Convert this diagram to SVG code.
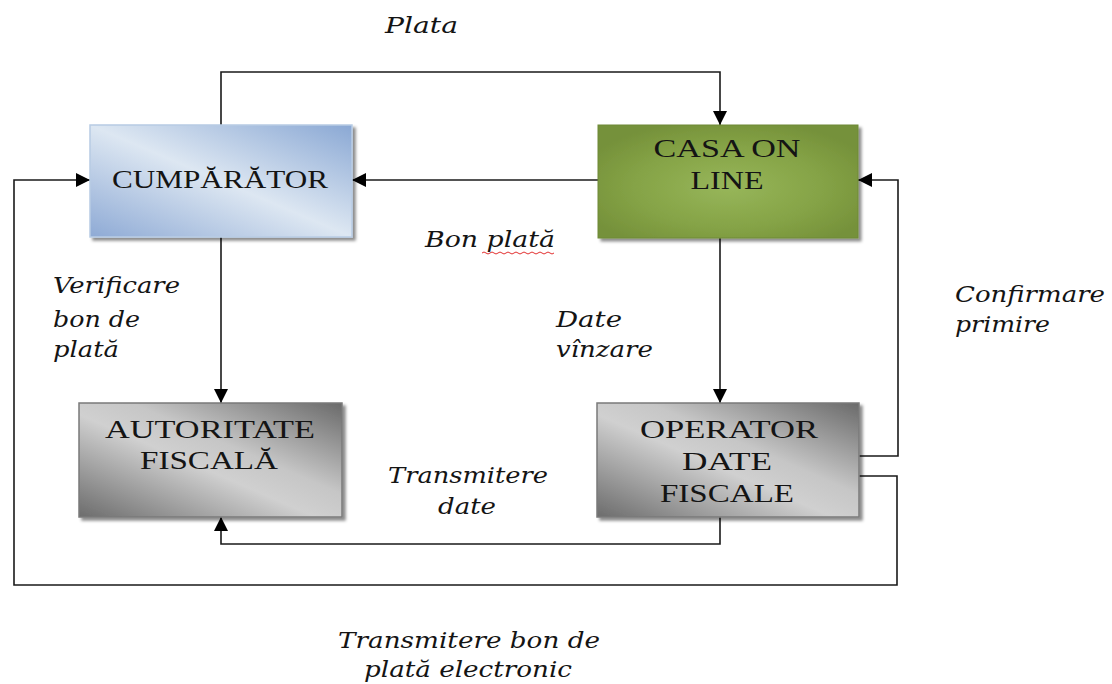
<svg xmlns="http://www.w3.org/2000/svg" width="1112" height="684" viewBox="0 0 1112 684">
<style>
.box-text{font-family:"Liberation Serif","Times New Roman",serif;font-size:26px;fill:#141414;text-anchor:middle}
.lbl{font-family:"DejaVu Serif","Liberation Serif",serif;font-style:italic;font-size:22px;fill:#141414}
.conn{fill:none;stroke:#1a1a1a;stroke-width:1.6}
</style>
<defs>
<linearGradient id="gBlue" x1="0" y1="1" x2="1" y2="0">
<stop offset="0" stop-color="#8eaad5"/>
<stop offset="0.5" stop-color="#dde7f2"/>
<stop offset="1" stop-color="#8aa8d4"/>
</linearGradient>
<radialGradient id="gGreen" cx="0.5" cy="0.55" r="0.6">
<stop offset="0" stop-color="#97b65a"/>
<stop offset="0.6" stop-color="#85a346"/>
<stop offset="1" stop-color="#75913a"/>
</radialGradient>
<linearGradient id="gGrey" x1="0" y1="1" x2="1" y2="0">
<stop offset="0" stop-color="#6c6c6c"/>
<stop offset="0.45" stop-color="#d0d0d0"/>
<stop offset="0.6" stop-color="#c6c6c6"/>
<stop offset="1" stop-color="#6a6a6a"/>
</linearGradient>
<filter id="shadow" x="-10%" y="-10%" width="130%" height="130%">
<feDropShadow dx="3" dy="3" stdDeviation="1.5" flood-color="#000" flood-opacity="0.45"/>
</filter>
<marker id="arrow" markerUnits="userSpaceOnUse" markerWidth="14" markerHeight="14" refX="14" refY="7" orient="auto">
<path d="M0,0 L14,7 L0,14 z" fill="#000"/>
</marker>
</defs>

<g id="connectors">
<path class="conn" d="M221,125 V72 H720 V125" marker-end="url(#arrow)"/>
<path class="conn" d="M598,180 H352" marker-end="url(#arrow)"/>
<path class="conn" d="M221,237 V403" marker-end="url(#arrow)"/>
<path class="conn" d="M720,238 V403" marker-end="url(#arrow)"/>
<path class="conn" d="M720,517 V544 H221 V517" marker-end="url(#arrow)"/>
<path class="conn" d="M858,456 H898 V180 H858" marker-end="url(#arrow)"/>
<path class="conn" d="M858,476 H897 V585 H14 V180 H90" marker-end="url(#arrow)"/>
</g>

<g id="node-cumparator">
<rect x="90" y="125" width="262" height="112" fill="url(#gBlue)" stroke="#b8cce4" stroke-width="1.5" filter="url(#shadow)"/>
<text class="box-text" x="220" y="188" textLength="216" lengthAdjust="spacingAndGlyphs">CUMPĂRĂTOR</text>
</g>

<g id="node-casa">
<rect x="598" y="125" width="260" height="113" fill="url(#gGreen)" stroke="#6f8a37" stroke-width="1" filter="url(#shadow)"/>
<text class="box-text" x="727" y="157" textLength="147" lengthAdjust="spacingAndGlyphs">CASA ON</text>
<text class="box-text" x="727" y="189" textLength="73" lengthAdjust="spacingAndGlyphs">LINE</text>
</g>

<g id="node-autoritate">
<rect x="79" y="403" width="263" height="114" fill="url(#gGrey)" stroke="#7a7a7a" stroke-width="1.5" filter="url(#shadow)"/>
<text class="box-text" x="210" y="438" textLength="210" lengthAdjust="spacingAndGlyphs">AUTORITATE</text>
<text class="box-text" x="209" y="469" textLength="138" lengthAdjust="spacingAndGlyphs">FISCALĂ</text>
</g>

<g id="node-operator">
<rect x="597" y="403" width="262" height="114" fill="url(#gGrey)" stroke="#7a7a7a" stroke-width="1.5" filter="url(#shadow)"/>
<text class="box-text" x="729" y="438" textLength="178" lengthAdjust="spacingAndGlyphs">OPERATOR</text>
<text class="box-text" x="727" y="470" textLength="90" lengthAdjust="spacingAndGlyphs">DATE</text>
<text class="box-text" x="727" y="502" textLength="134" lengthAdjust="spacingAndGlyphs">FISCALE</text>
</g>

<g id="labels">
<text class="lbl" x="385" y="33" textLength="73" lengthAdjust="spacingAndGlyphs">Plata</text>
<text class="lbl" x="425" y="247" textLength="130" lengthAdjust="spacingAndGlyphs">Bon plată</text>
<path d="M482,253 q2,-2 4,0 t4,0 t4,0 t4,0 t4,0 t4,0 t4,0 t4,0 t4,0 t4,0 t4,0 t4,0 t4,0 t4,0 t4,0 t4,0 t4,0 t4,0" fill="none" stroke="#e23030" stroke-width="1"/>
<text class="lbl" x="53" y="293" textLength="127" lengthAdjust="spacingAndGlyphs">Verificare</text>
<text class="lbl" x="53" y="327" textLength="87" lengthAdjust="spacingAndGlyphs">bon de</text>
<text class="lbl" x="53" y="357" textLength="66" lengthAdjust="spacingAndGlyphs">plată</text>
<text class="lbl" x="556" y="327" textLength="66" lengthAdjust="spacingAndGlyphs">Date</text>
<text class="lbl" x="556" y="357" textLength="97" lengthAdjust="spacingAndGlyphs">vînzare</text>
<text class="lbl" x="955" y="302" textLength="150" lengthAdjust="spacingAndGlyphs">Confirmare</text>
<text class="lbl" x="955" y="332" textLength="95" lengthAdjust="spacingAndGlyphs">primire</text>
<text class="lbl" x="388" y="483" textLength="160" lengthAdjust="spacingAndGlyphs">Transmitere</text>
<text class="lbl" x="438" y="514" textLength="58" lengthAdjust="spacingAndGlyphs">date</text>
<text class="lbl" x="338" y="648" textLength="262" lengthAdjust="spacingAndGlyphs">Transmitere bon de</text>
<text class="lbl" x="364" y="677" textLength="208" lengthAdjust="spacingAndGlyphs">plată electronic</text>
</g>
</svg>
